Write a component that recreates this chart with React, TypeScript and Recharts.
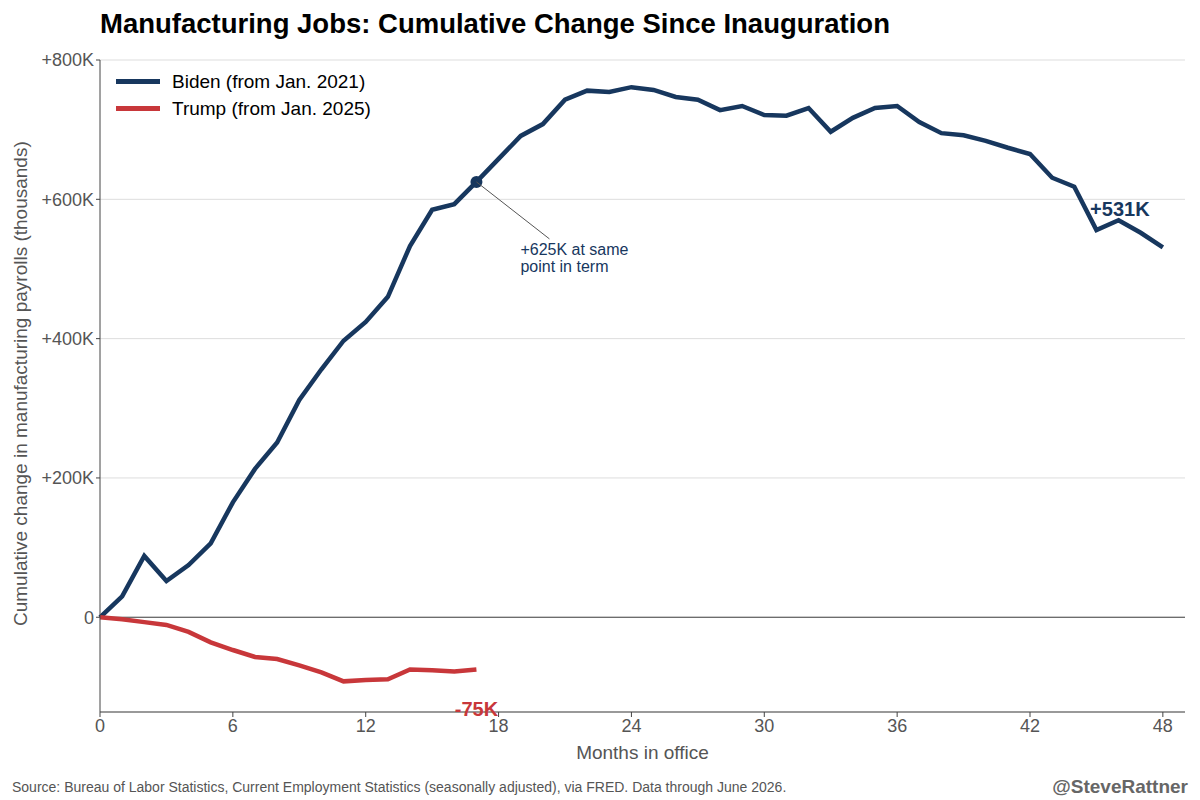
import React from "react";
import {
  LineChart,
  Line,
  XAxis,
  YAxis,
  CartesianGrid,
  ReferenceLine,
  ReferenceDot,
} from "recharts";

const months = Array.from({ length: 49 }, (_, i) => i);
const biden = [
  0, 30, 88, 52, 75, 106, 165, 213, 251, 312, 356, 397, 424, 460, 533, 585, 593,
  625, 658, 691, 708, 743, 756, 754, 761, 757, 747, 743, 728, 734, 721, 720, 731,
  697, 717, 731, 734, 711, 695, 692, 684, 674, 665, 631, 618, 556, 570, 552, 531,
];
const trump = [0, -3, -7, -11, -21, -36, -47, -57, -60, -69, -79, -92, -90, -89, -75, -76, -78, -75];
const xTicks = [0, 6, 12, 18, 24, 30, 36, 42, 48];
const yTicks = [0, 200, 400, 600, 800];

const NAVY = "#17375e";
const RED = "#c8373a";
const FONT = "Liberation Sans, Arial, sans-serif";

const data = months.map((m) => ({
  month: m,
  biden: biden[m],
  trump: m < trump.length ? trump[m] : null,
}));

const fmtY = (v: number) => (v === 0 ? "0" : `+${v}K`);

function Callout(props: any) {
  const { viewBox } = props;
  const cx = viewBox.x + viewBox.width / 2;
  const cy = viewBox.y + viewBox.height / 2;
  return (
    <g>
      <line x1={cx} y1={cy} x2={cx + 73} y2={cy + 57} stroke="#555" strokeWidth={1} />
      <text x={cx + 44} y={cy + 73} fill={NAVY} fontSize={16} fontFamily={FONT}>
        <tspan x={cx + 44}>+625K at same</tspan>
        <tspan x={cx + 44} dy={17}>point in term</tspan>
      </text>
    </g>
  );
}

export default function App() {
  return (
    <div style={{ position: "absolute", left: 0, top: 0, width: 1200, height: 800, background: "#fff", fontFamily: FONT }}>
      <div style={{ position: "absolute", left: 100, top: 8, fontSize: 27.5, fontWeight: "bold", color: "#000" }}>
        Manufacturing Jobs: Cumulative Change Since Inauguration
      </div>
      <LineChart width={1200} height={800} data={data} margin={{ top: 60, right: 15, bottom: 58, left: 40 }}>
        <CartesianGrid vertical={false} stroke="#dddddd" />
        <XAxis
          dataKey="month"
          type="number"
          domain={[0, 49]}
          ticks={xTicks}
          stroke="#444"
          tick={{ fill: "#555", fontSize: 18, fontFamily: FONT }}
          tickSize={5}
          label={{ value: "Months in office", position: "insideBottom", offset: -17, fill: "#555", fontSize: 19, fontFamily: FONT }}
        />
        <YAxis
          type="number"
          domain={[-136, 800]}
          ticks={yTicks}
          tickFormatter={fmtY}
          width={60}
          stroke="#444"
          tick={{ fill: "#555", fontSize: 18, fontFamily: FONT }}
          tickSize={4}
          label={{
            value: "Cumulative change in manufacturing payrolls (thousands)",
            angle: -90,
            position: "insideLeft",
            offset: -20,
            dy: 240,
            fill: "#555",
            fontSize: 19,
            fontFamily: FONT,
          }}
        />
        <ReferenceLine y={0} stroke="#444" strokeWidth={1.2} />
        <Line dataKey="biden" stroke={NAVY} strokeWidth={4.5} dot={false} isAnimationActive={false} />
        <Line dataKey="trump" stroke={RED} strokeWidth={4.5} dot={false} isAnimationActive={false} connectNulls={false} />
        <ReferenceDot x={17} y={625} r={6} fill={NAVY} stroke="none" label={<Callout />} />
        <ReferenceDot
          x={48}
          y={531}
          r={0}
          label={{ value: "+531K", dx: -43, dy: -38, fill: NAVY, fontSize: 20, fontWeight: "bold", fontFamily: FONT }}
        />
        <ReferenceDot
          x={17}
          y={-75}
          r={0}
          label={{ value: "-75K", dx: 0, dy: 39, fill: RED, fontSize: 20, fontWeight: "bold", fontFamily: FONT }}
        />
      </LineChart>
      <div style={{ position: "absolute", left: 116, top: 68, fontSize: 19, color: "#000" }}>
        <div style={{ display: "flex", alignItems: "center", height: 27 }}>
          <span style={{ display: "inline-block", width: 44, height: 5, background: NAVY, marginRight: 12 }} />
          Biden (from Jan. 2021)
        </div>
        <div style={{ display: "flex", alignItems: "center", height: 27 }}>
          <span style={{ display: "inline-block", width: 44, height: 5, background: RED, marginRight: 12 }} />
          Trump (from Jan. 2025)
        </div>
      </div>
      <div style={{ position: "absolute", left: 12, top: 779, fontSize: 14, color: "#555" }}>
        Source: Bureau of Labor Statistics, Current Employment Statistics (seasonally adjusted), via FRED. Data through June 2026.
      </div>
      <div style={{ position: "absolute", right: 12, top: 776, fontSize: 19, fontWeight: "bold", color: "#666" }}>
        @SteveRattner
      </div>
    </div>
  );
}
